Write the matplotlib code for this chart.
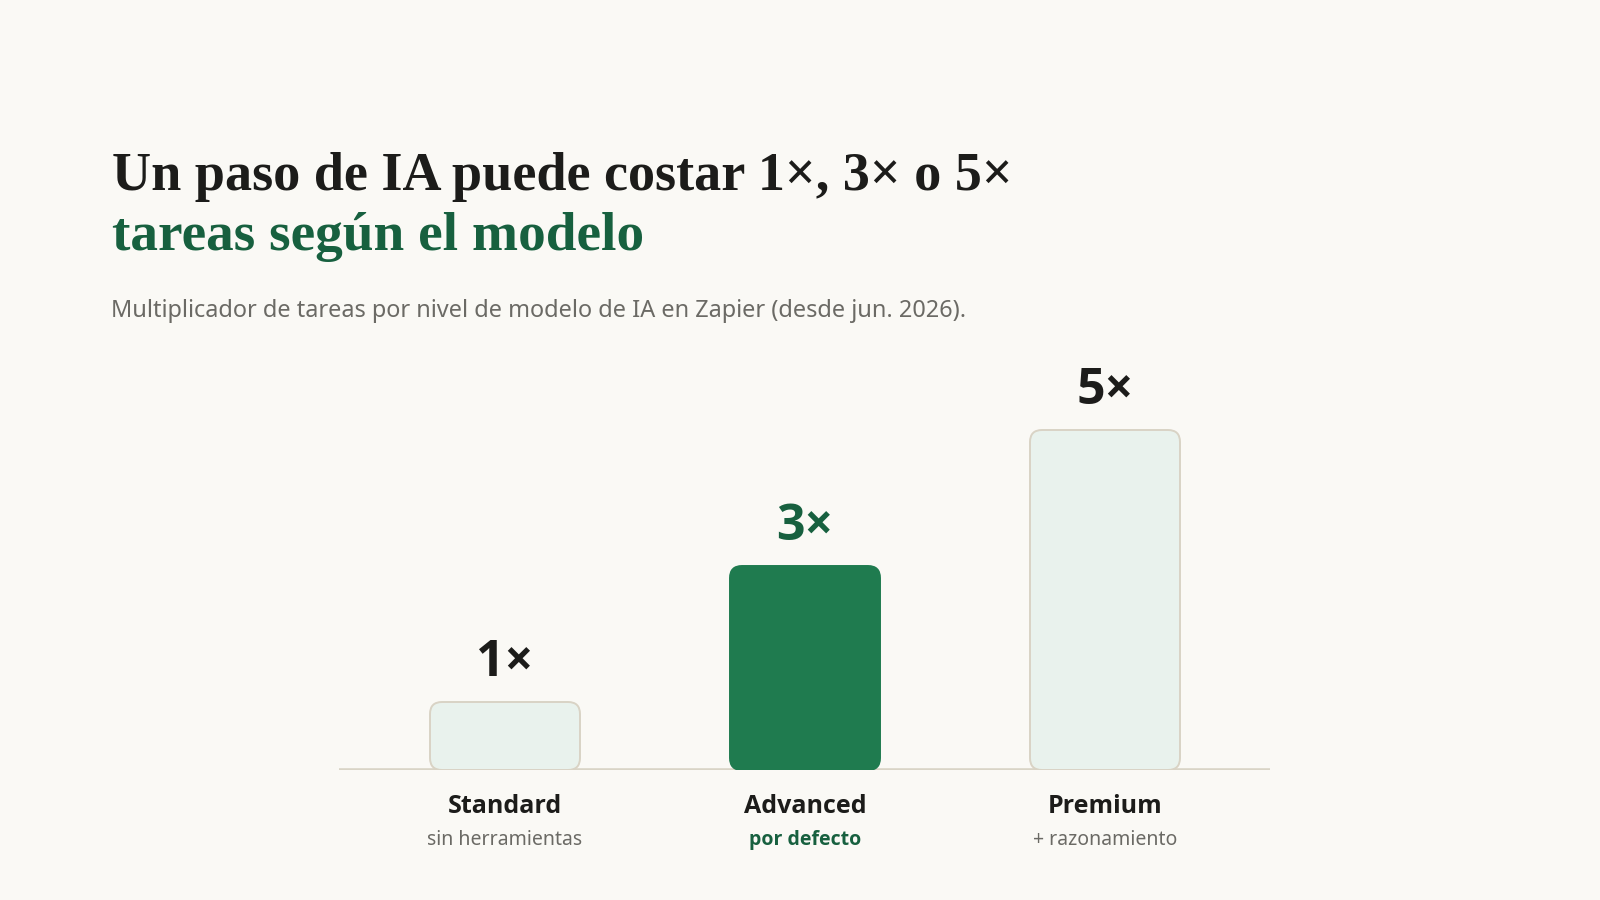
import matplotlib
matplotlib.use("Agg")
import matplotlib.pyplot as plt
from matplotlib.patches import FancyBboxPatch
from matplotlib import font_manager as fm

# ---- data ----
categories = ["Standard", "Advanced", "Premium"]
descriptions = ["sin herramientas", "por defecto", "+ razonamiento"]
multipliers = [1, 3, 5]
value_labels = ["1×", "3×", "5×"]
highlight = [False, True, False]

title_line1 = "Un paso de IA puede costar 1×, 3× o 5×"
title_line2 = "tareas según el modelo"
subtitle = "Multiplicador de tareas por nivel de modelo de IA en Zapier (desde jun. 2026)."

# ---- style ----
BG = "#faf9f5"
DARK = "#1c1c1a"
GREEN_T = "#17603f"
GREEN_BAR = "#1f7b4f"
LIGHT_FILL = "#e9f2ed"
LIGHT_EDGE = "#d9d3c5"
AXIS = "#d9d4c6"
GRAY = "#6b6a65"

W, H = 1600, 900
DPI = 100
fig = plt.figure(figsize=(W / DPI, H / DPI), dpi=DPI, facecolor=BG)
renderer = fig.canvas.get_renderer()


def fx(x):
    return x / W


def fy(y):
    return 1 - y / H


def has_bold(fam):
    try:
        path = fm.findfont(fm.FontProperties(family=fam, weight="bold"),
                           fallback_to_default=False)
    except Exception:
        return False
    low = path.lower()
    return "bold" in low or "black" in low or "heavy" in low or "semibold" in low


sans_reg = ["Noto Sans", "DejaVu Sans"]
bold_fam = "DejaVu Sans"
for f in ["Noto Sans", "Open Sans", "Roboto", "Lato", "Inter"]:
    if has_bold(f):
        bold_fam = f
        break
sans_bold = [bold_fam, "DejaVu Sans"]
serif = ["Liberation Serif", "DejaVu Serif"]


def fit_size(txt, target_w, base, **kw):
    t = fig.text(0, 0, txt, fontsize=base, **kw)
    w = t.get_window_extent(renderer).width
    t.remove()
    return base * target_w / w


ts = fit_size(title_line1, 901, 36, family=serif, fontweight="bold")
fig.text(fx(112), fy(190), title_line1, fontsize=ts, family=serif,
         fontweight="bold", color=DARK, va="baseline", ha="left")
fig.text(fx(112), fy(250), title_line2, fontsize=ts * 1.02, family=serif,
         fontweight="bold", color=GREEN_T, va="baseline", ha="left")

ss = fit_size(subtitle, 855, 17, family=sans_reg)
fig.text(fx(111), fy(317), subtitle, fontsize=ss, family=sans_reg,
         color=GRAY, va="baseline", ha="left")

# ---- axes for bars ----
px_per_x = 300.0
px_per_y = 68.0
ax_left_px, ax_right_px = 339, 1270
base_px = 770
top_px = 340
ax = fig.add_axes([fx(ax_left_px), fy(base_px),
                   (ax_right_px - ax_left_px) / W, (base_px - top_px) / H])
ax.set_facecolor("none")
x0 = -(505 - ax_left_px) / px_per_x
x1 = x0 + (ax_right_px - ax_left_px) / px_per_x
ax.set_xlim(x0, x1)
ax.set_ylim(0, (base_px - top_px) / px_per_y)
ax.axis("off")

ax.axhline(0, color=AXIS, lw=2.6, zorder=1, solid_capstyle="butt")

bar_w = 150 / px_per_x
radius_px = 12
for i, (v, hl) in enumerate(zip(multipliers, highlight)):
    fc = GREEN_BAR if hl else LIGHT_FILL
    ec = GREEN_BAR if hl else LIGHT_EDGE
    p = FancyBboxPatch((i - bar_w / 2, 0), bar_w, v,
                       boxstyle=f"round,pad=0,rounding_size={radius_px / px_per_x}",
                       mutation_aspect=px_per_x / px_per_y,
                       fc=fc, ec=ec, lw=1.4, zorder=2)
    ax.add_patch(p)
    ax.annotate(value_labels[i], (i, v), xytext=(0, 26 * 72 / DPI),
                textcoords="offset points", ha="center", va="baseline",
                fontsize=36, fontweight="bold", family=sans_bold,
                color=GREEN_T if hl else DARK)

# ---- category labels ----
for i, c in enumerate(categories):
    cx = ax.transData.transform((i, 0))[0] / W
    fig.text(cx, fy(813), c, ha="center", va="baseline", fontsize=18,
             fontweight="bold", family=sans_bold, color=DARK)
    fig.text(cx, fy(845), descriptions[i], ha="center", va="baseline",
             fontsize=14, fontweight="bold" if highlight[i] else "normal",
             family=sans_bold if highlight[i] else sans_reg,
             color=GREEN_T if highlight[i] else GRAY)

fig.savefig("out.png", dpi=DPI, facecolor=BG)
